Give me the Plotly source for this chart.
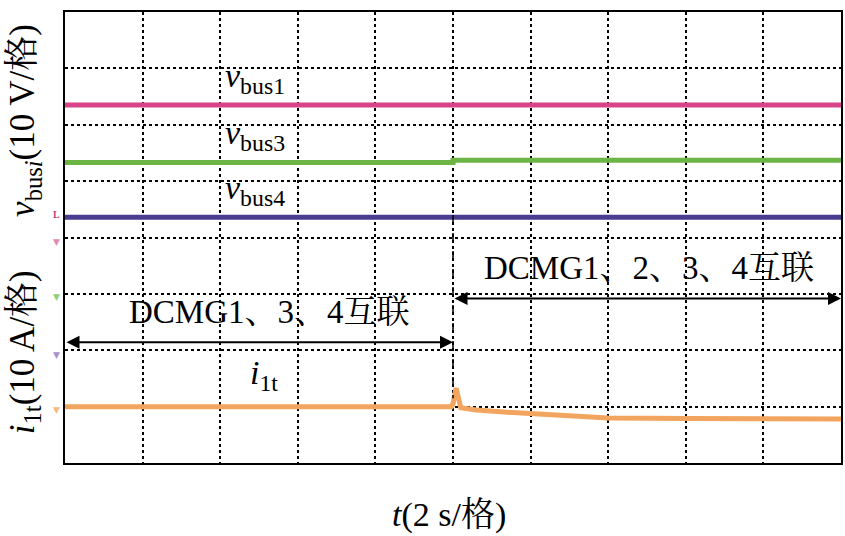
import plotly.graph_objects as go

# ---- data (divisions: x 0..10 at 2 s/div, y 0..8) ----
t_v = [0, 5, 5, 10]
vbus1 = [6.35, 6.35, 6.35, 6.35]
vbus3 = [5.33, 5.33, 5.37, 5.37]
vbus4 = [4.36, 4.36, 4.36, 4.36]

t_i = [0, 4.98, 5.0, 5.04, 5.1, 5.3, 5.7, 6.0, 6.5, 7.0, 8.0, 9.0, 10.0]
i1t = [1.0, 1.0, 1.05, 1.33, 0.98, 0.94, 0.90, 0.88, 0.84, 0.80, 0.79, 0.78, 0.78]

trace_names = ["vbus1", "vbus3", "vbus4", "i1t"]
colors = ["#d8448a", "#6cb544", "#4a3c90", "#f2a55e"]

marker_y = [3.92, 2.95, 1.92, 0.94]
marker_colors = ["#e38ab2", "#8fcf78", "#a890cc", "#f5b982"]
trigger_y = 4.40

FONT = "Liberation Serif, Noto Serif CJK SC, Noto Sans CJK SC, serif"

fig = go.Figure()
for name, col, ys in zip(trace_names[:3], colors[:3], [vbus1, vbus3, vbus4]):
    fig.add_trace(go.Scatter(x=t_v, y=ys, mode="lines", name=name,
                             line=dict(color=col, width=5), showlegend=False))
fig.add_trace(go.Scatter(x=t_i, y=i1t, mode="lines", name="i1t",
                         line=dict(color=colors[3], width=5), showlegend=False))

# switching instant dashed marker
fig.add_trace(go.Scatter(x=[5, 5], y=[4.40, 1.15], mode="lines",
                         line=dict(color="black", width=1.5, dash="dash"),
                         showlegend=False))

ann = []
# channel ground markers outside the plot (left margin)
for y, c in zip(marker_y, marker_colors):
    ann.append(dict(xref="paper", yref="y", x=-0.011, y=y, text="▼", showarrow=False,
                    xanchor="center", yanchor="middle",
                    font=dict(family="DejaVu Sans", size=9, color=c)))
ann.append(dict(xref="paper", yref="y", x=-0.011, y=trigger_y, text="<b>L</b>", showarrow=False,
                xanchor="center", yanchor="middle",
                font=dict(family="Liberation Serif", size=10, color="#c8407a")))

labels = [("<i>v</i><sub>bus1</sub>", 2.45, 6.83, 34),
          ("<i>v</i><sub>bus3</sub>", 2.45, 5.82, 34),
          ("<i>v</i><sub>bus4</sub>", 2.45, 4.84, 34),
          ("<i>i</i><sub>1t</sub>", 2.57, 1.56, 34),
          ("DCMG1、3、4互联", 2.63, 2.68, 33),
          ("DCMG1、2、3、4互联", 7.53, 3.46, 33)]
for txt, x, y, s in labels:
    ann.append(dict(x=x, y=y, xref="x", yref="y", text=txt, showarrow=False,
                    font=dict(family=FONT, size=s, color="black")))

for x0, x1, y in [(0, 5, 2.14), (5, 10, 2.92)]:
    ann.append(dict(x=x1, y=y, ax=x0, ay=y, xref="x", yref="y", axref="x", ayref="y",
                    text="", showarrow=True, arrowhead=2, arrowside="end+start",
                    arrowsize=1.3, arrowwidth=2, arrowcolor="black"))

ann.append(dict(xref="paper", yref="paper", x=-0.052, y=0.76, xanchor="center", yanchor="middle",
                text="<i>v</i><sub>bus<i>i</i></sub>(10 V/格)", textangle=-90, showarrow=False,
                font=dict(family=FONT, size=35, color="black")))
ann.append(dict(xref="paper", yref="paper", x=-0.052, y=0.245, xanchor="center", yanchor="middle",
                text="<i>i</i><sub>1t</sub>(10 A/格)", textangle=-90, showarrow=False,
                font=dict(family=FONT, size=35, color="black")))
ann.append(dict(xref="paper", yref="paper", x=0.495, y=-0.115, xanchor="center", yanchor="middle",
                text="<i>t</i>(2 s/格)", showarrow=False,
                font=dict(family=FONT, size=34, color="black")))
fig.update_layout(annotations=ann)

fig.update_xaxes(range=[0, 10], dtick=1, showticklabels=False, ticks="",
                 showgrid=True, gridcolor="black", griddash="dot", gridwidth=1.5,
                 zeroline=False, showline=True, linecolor="black", linewidth=2, mirror=True)
fig.update_yaxes(range=[0, 8], dtick=1, showticklabels=False, ticks="",
                 showgrid=True, gridcolor="black", griddash="dot", gridwidth=1.5,
                 zeroline=False, showline=True, linecolor="black", linewidth=2, mirror=True)

fig.update_layout(width=845, height=536, margin=dict(l=65, r=2, t=12, b=73),
                  plot_bgcolor="white", paper_bgcolor="white")
fig.write_html("out.html", config={"displayModeBar": False},
               post_script="document.body.style.margin='0';")
